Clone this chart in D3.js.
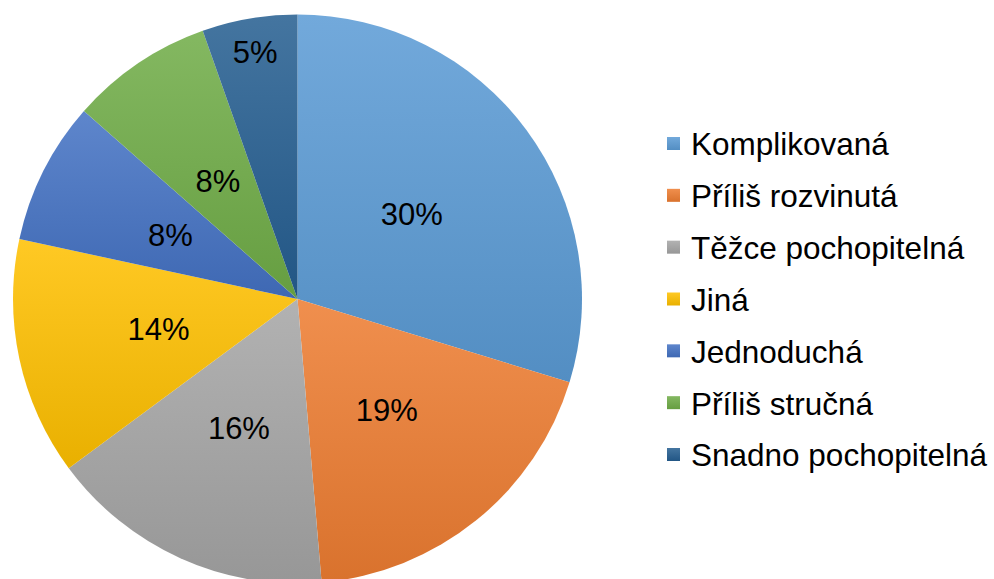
<!DOCTYPE html>
<html><head><meta charset="utf-8">
<script src="https://cdn.jsdelivr.net/npm/d3@7"></script>
<style>html,body{margin:0;padding:0;background:#fff;}svg{display:block;}</style>
</head><body>
<svg id="chart" width="994" height="579"></svg>
<script>
const categories = ["Komplikovaná","Příliš rozvinutá","Těžce pochopitelná","Jiná","Jednoduchá","Příliš stručná","Snadno pochopitelná"];
const counts = [11,7,6,5,3,3,2];
const colors = ["#5B9BD5","#ED7D31","#A5A5A5","#FFC000","#4472C4","#70AD47","#255E91"];

const svg = d3.select("#chart");
const cx = 297.5, cy = 299, R = 284.5;
const total = d3.sum(counts);
const data = categories.map((c,i)=>({name:c, value:counts[i], color:colors[i], i}));

const defs = svg.append("defs");
data.forEach(d=>{
  const g = defs.append("linearGradient").attr("id","g"+d.i).attr("x1",0).attr("y1",0).attr("x2",0).attr("y2",1);
  g.append("stop").attr("offset","0%").attr("stop-color", d3.interpolateRgb(d.color,"#ffffff")(0.14));
  g.append("stop").attr("offset","100%").attr("stop-color", d3.color(d.color).darker(0.25));
});

const pie = d3.pie().value(d=>d.value).sort(null);
const arcs = pie(data);
const arc = d3.arc().innerRadius(0).outerRadius(R);
const g = svg.append("g").attr("transform",`translate(${cx},${cy})`);
g.selectAll("path").data(arcs).join("path")
  .attr("d",arc).attr("fill",d=>`url(#g${d.data.i})`);

const fmt = v => Math.round(v/total*100)+"%";
g.selectAll("text").data(arcs).join("text")
  .attr("transform",d=>{
    const frac = d.data.value/total;
    const rr = frac < 0.06 ? R*0.88 : R*0.5;
    const a = (d.startAngle+d.endAngle)/2;
    return `translate(${Math.sin(a)*rr},${-Math.cos(a)*rr})`;
  })
  .attr("text-anchor","middle").attr("dy","0.35em")
  .attr("font-family","'Liberation Sans', Arial, sans-serif").attr("font-size",31)
  .attr("fill","#000").text(d=>fmt(d.data.value));

const leg = svg.append("g").attr("transform","translate(667,0)");
const rowY = d3.scalePoint().domain(categories).range([144,455]);
const li = leg.selectAll("g").data(data).join("g").attr("transform",d=>`translate(0,${rowY(d.name)})`);
li.append("rect").attr("x",0).attr("y",-7).attr("width",13).attr("height",13).attr("fill",d=>`url(#g${d.i})`);
li.append("text").attr("x",24).attr("dy","0.36em")
  .attr("font-family","'Liberation Sans', Arial, sans-serif").attr("font-size",31.5)
  .attr("fill","#000").text(d=>d.name);
</script>
</body></html>
